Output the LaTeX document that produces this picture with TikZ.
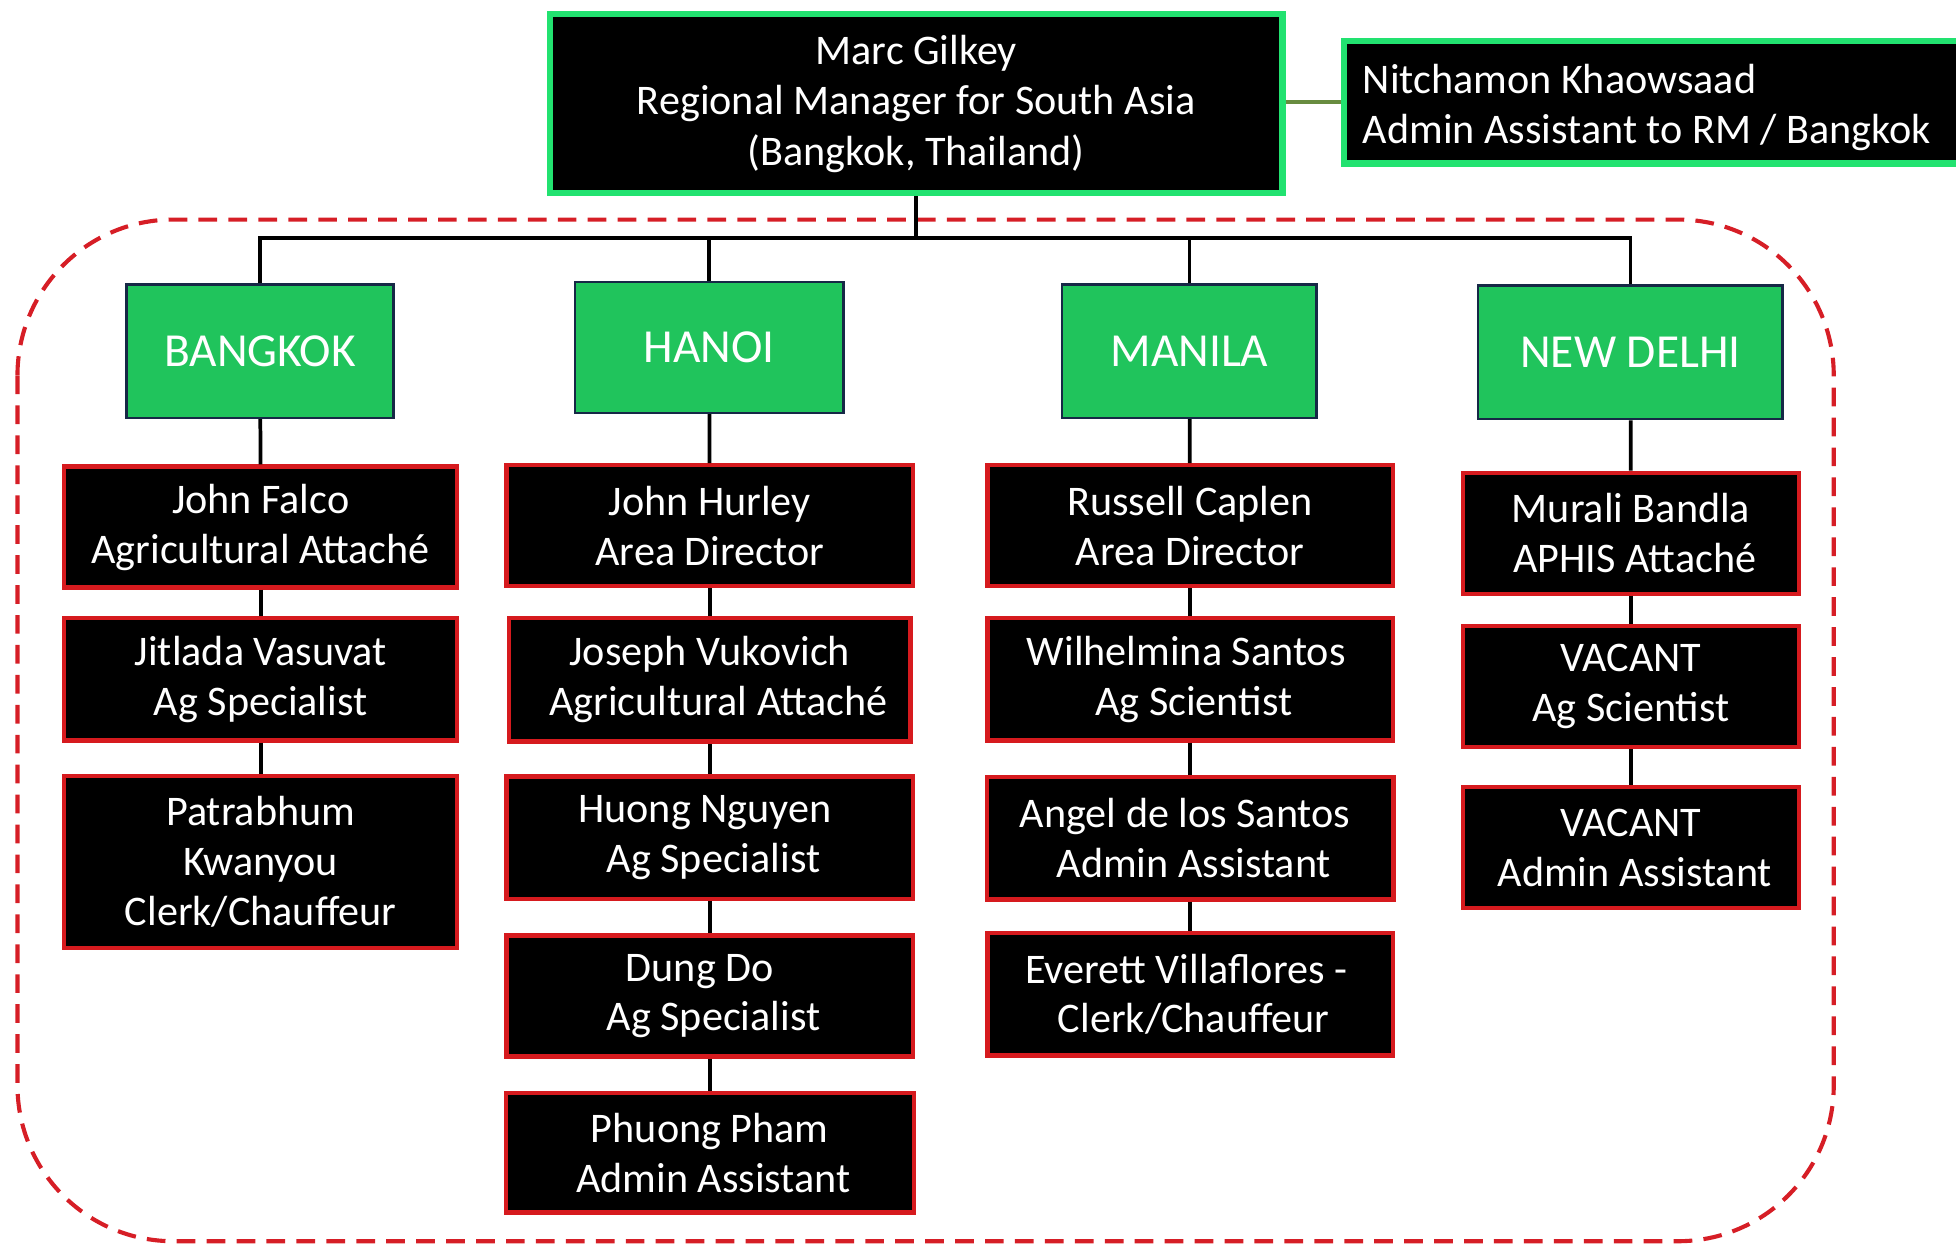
\documentclass[tikz,border=0pt]{standalone}
\usepackage{fontspec}
\setmainfont{Carlito}
\definecolor{topgreen}{RGB}{34,226,112}
\definecolor{citygreen}{RGB}{32,196,92}
\definecolor{cityedge}{RGB}{22,40,70}
\definecolor{boxred}{RGB}{214,26,30}
\definecolor{dashred}{RGB}{214,30,38}
\definecolor{olive}{RGB}{104,140,64}
\newcommand{\lowr}[1]{\raisebox{-4pt}[\height][\depth]{#1}}
\tikzset{
  topbox/.style={draw=topgreen, line width=5pt, fill=black, text=white, inner sep=0pt,
    font=\fontsize{33.8}{40.5}\selectfont},
  citybox/.style={draw=cityedge, line width=2pt, fill=citygreen, text=white, inner sep=0pt,
    font=\fontsize{38}{40}\selectfont},
  pbox/.style={draw=boxred, line width=3.5pt, fill=black, text=white, inner sep=0pt,
    align=center, font=\fontsize{33.8}{40}\selectfont},
  link/.style={draw=black, line width=3pt},
  region/.style={draw=dashred, line width=3.3pt, dash pattern=on 15pt off 9pt, rounded corners=125pt}
}
\begin{document}
\begin{tikzpicture}[x=1pt,y=-1pt]
\useasboundingbox (0,0) rectangle (1568,997);
% dashed region
\draw[region] (14,176) rectangle (1470,995);

% top
\node[topbox, align=center, minimum width=587pt, minimum height=144pt] (marc) at (734.5,83)
  {Marc Gilkey\\Regional Manager for South Asia\\(Bangkok, Thailand)};
\node[topbox, align=flush left, text width=490pt, inner xsep=15pt, minimum height=98pt, anchor=west] (nit) at (1075,82)
  {\lowr{Nitchamon Khaowsaad}\\\lowr{Admin Assistant to RM / Bangkok}};
\draw[draw=olive, line width=3pt] (marc.east |- 0,82) -- (nit.west |- 0,82);

% cities
\node[citybox, minimum width=214pt, minimum height=107pt] (bkk) at (208.5,281.5) {BANGKOK};
\node[citybox, minimum width=215pt, minimum height=105pt] (han) at (568.5,278.5) {HANOI};
\node[citybox, minimum width=204pt, minimum height=107pt] (mnl) at (953.5,281.5) {MANILA};
\node[citybox, minimum width=244pt, minimum height=107pt] (ndl) at (1307,282.5) {NEW DELHI};

% bus
\coordinate (bus) at (0,191);
\draw[link] (marc.south) -- (marc.south |- bus);
\draw[link] (bkk.north) -- (bkk.north |- bus) -- (ndl.north |- bus) -- (ndl.north);
\draw[link] (han.north) -- (han.north |- bus);
\draw[link] (mnl.north) -- (mnl.north |- bus);

% Bangkok column
\node[pbox, minimum width=315pt, minimum height=97pt] (b1) at (209,422.5) {John Falco\\Agricultural Attaché};
\node[pbox, minimum width=315pt, minimum height=98pt] (b2) at (209,544.5) {Jitlada Vasuvat\\Ag Specialist};
\node[pbox, minimum width=315pt, minimum height=138pt] (b3) at (209,691) {Patrabhum\\Kwanyou\\Clerk/Chauffeur};

% Hanoi column
\node[pbox, minimum width=326pt, minimum height=97pt] (h1) at (569,421.5) {John Hurley\\Area Director};
\node[pbox, minimum width=322pt, minimum height=99pt] (h2) at (569,545) {Joseph Vukovich\\\hspace*{14pt}Agricultural Attaché};
\node[pbox, minimum width=326pt, minimum height=98pt] (h3) at (569,671.5) {Huong Nguyen\hspace*{8pt}\\\hspace*{6pt}Ag Specialist};
\node[pbox, minimum width=326pt, minimum height=97pt] (h4) at (569,798.5) {Dung Do\hspace*{16pt}\\\hspace*{6pt}Ag Specialist};
\node[pbox, minimum width=327pt, minimum height=96pt] (h5) at (569,924) {Phuong Pham\\\hspace*{6pt}Admin Assistant};

% Manila column
\node[pbox, minimum width=325pt, minimum height=97pt] (m1) at (954,421.5) {Russell Caplen\\Area Director};
\node[pbox, minimum width=325pt, minimum height=98pt] (m2) at (954,544.5) {Wilhelmina Santos\hspace*{6pt}\\\hspace*{6pt}Ag Scientist};
\node[pbox, minimum width=326pt, minimum height=98pt] (m3) at (954,672) {Angel de los Santos\hspace*{8pt}\\\hspace*{6pt}Admin Assistant};
\node[pbox, minimum width=325pt, minimum height=98pt] (m4) at (954,797) {Everett Villaflores -\hspace*{6pt}\\\hspace*{6pt}Clerk/Chauffeur};

% New Delhi column
\node[pbox, minimum width=269pt, minimum height=97pt] (d1) at (1307.5,427.5) {Murali Bandla\\\hspace*{6pt}APHIS Attaché};
\node[pbox, minimum width=269pt, minimum height=97pt] (d2) at (1307.5,550.5) {VACANT\\Ag Scientist};
\node[pbox, minimum width=269pt, minimum height=97pt] (d3) at (1307.5,679.5) {VACANT\\\hspace*{6pt}Admin Assistant};

% vertical links
\draw[link] (bkk) -- (b1);
\draw[link] (b1) -- (b2);
\draw[link] (b2) -- (b3);
\draw[link] (han) -- (h1);
\draw[link] (h1) -- (h2);
\draw[link] (h2) -- (h3);
\draw[link] (h3) -- (h4);
\draw[link] (h4) -- (h5);
\draw[link] (mnl) -- (m1);
\draw[link] (m1) -- (m2);
\draw[link] (m2) -- (m3);
\draw[link] (m3) -- (m4);
\draw[link] (ndl) -- (d1);
\draw[link] (d1) -- (d2);
\draw[link] (d2) -- (d3);
\end{tikzpicture}
\end{document}
